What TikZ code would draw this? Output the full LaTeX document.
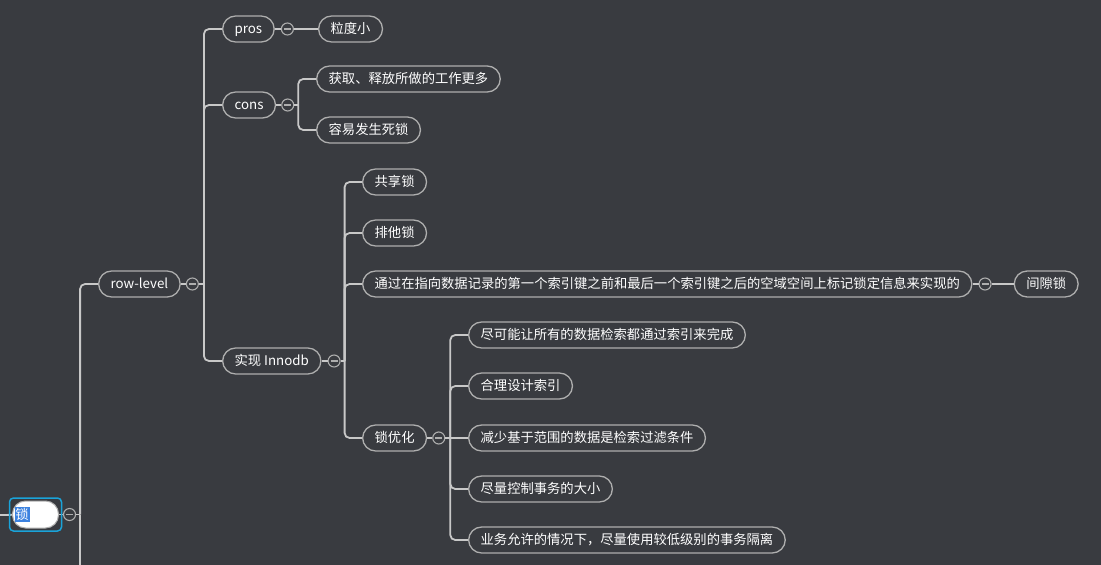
\documentclass[tikz,border=0pt]{standalone}
\usepackage{fontspec}
\setmainfont{Noto Sans CJK SC}
\usetikzlibrary{positioning}
\definecolor{bgdark}{HTML}{393B40}
\definecolor{linegray}{HTML}{C8C8C8}
\definecolor{boxgray}{HTML}{AEAEAE}
\definecolor{selcyan}{HTML}{1AA3D9}
\definecolor{selblue}{HTML}{3C82E0}

\begin{document}
\begin{tikzpicture}[
    x=1pt, y=-1pt,
    every node/.style={font=\fontsize{13.3}{15}\selectfont, text=white},
    topic/.style={rectangle, draw=boxgray, fill=bgdark, line width=1.3pt, rounded corners=13pt, minimum height=26pt, text height=10.5pt, text depth=2.5pt, inner xsep=12pt, anchor=west},
    rootbox/.style={rectangle, draw=boxgray, fill=white, line width=1pt, rounded corners=13pt, minimum height=27pt, text width=42pt, inner xsep=2pt, align=left, anchor=west},
    fold/.style={circle, draw=boxgray, fill=bgdark, line width=1.1pt, minimum size=12pt, inner sep=0pt,
        path picture={\draw[boxgray, line width=1.1pt] ([xshift=-3.5pt]path picture bounding box.center) -- ([xshift=3.5pt]path picture bounding box.center);}},
    link/.style={draw=linegray, line width=1.8pt},
    elbow/.style={link, rounded corners=5pt}
]

% Background
\fill[bgdark] (0,0) rectangle (1101,565);
\useasboundingbox (0,0) rectangle (1101,565);

% Root
\node[rootbox] (root) at (12,514.5) {{\fboxsep=1pt\colorbox{selblue}{锁}}};
\node[fold, right=4pt of root] (rootF) {};
\coordinate[right=4pt of rootF] (rootJ);
\coordinate (leftend) at (0,515);
\coordinate[below=60pt of rootJ] (offbelow);

% Level 1
\node[topic] (rowlevel) at (98,284) {row-level};
\node[fold, right=5pt of rowlevel] (rowlevelF) {};
\coordinate[right=5pt of rowlevelF] (rowlevelJ);

% Level 2
\node[topic] (pros) at (222,29) {pros};
\node[fold, right=6pt of pros] (prosF) {};
\node[topic, right=24pt of prosF] (lidu) {粒度小};

\node[topic] (cons) at (222,105) {cons};
\node[fold, right=5pt of cons] (consF) {};
\coordinate[right=4pt of consF] (consJ);
\node[topic] (costly) at (316,79) {获取、释放所做的工作更多};
\node[topic] (deadlock) at (316,130) {容易发生死锁};

\node[topic] (impl) at (222,361) {实现 Innodb};
\node[fold, right=6pt of impl] (implF) {};
\coordinate[right=4pt of implF] (implJ);

% Level 3 (Innodb)
\node[topic] (shared) at (362,182) {共享锁};
\node[topic] (exclusive) at (362,233) {排他锁};
\node[topic] (gapdesc) at (362,284) {通过在指向数据记录的第一个索引键之前和最后一个索引键之后的空域空间上标记锁定信息来实现的};
\node[fold, right=6pt of gapdesc] (gapdescF) {};
\node[topic, right=22pt of gapdescF] (gaplock) {间隙锁};
\node[topic] (lockopt) at (362,438) {锁优化};
\node[fold, right=5pt of lockopt] (lockoptF) {};
\coordinate[right=5pt of lockoptF] (lockoptJ);

% Level 4 (lock tuning)
\node[topic] (opt1) at (468,335) {尽可能让所有的数据检索都通过索引来完成};
\node[topic] (opt2) at (468,386) {合理设计索引};
\node[topic] (opt3) at (468,438) {减少基于范围的数据是检索过滤条件};
\node[topic] (opt4) at (468,489) {尽量控制事务的大小};
\node[topic] (opt5) at (468,540) {业务允许的情况下，尽量使用较低级别的事务隔离};

% Connectors
\draw[link] (leftend) -- (root);
\draw[link] (root) -- (rootF) -- (rootJ);
\draw[link] (rootJ) -- (offbelow);
\draw[elbow] (rootJ) |- (rowlevel);

\draw[link] (rowlevel) -- (rowlevelF) -- (rowlevelJ);
\draw[elbow] (rowlevelJ) |- (pros);
\draw[elbow] (rowlevelJ) |- (cons);
\draw[elbow] (rowlevelJ) |- (impl);

\draw[link] (pros) -- (prosF) -- (lidu);

\draw[link] (cons) -- (consF) -- (consJ);
\draw[elbow] (consJ) |- (costly);
\draw[elbow] (consJ) |- (deadlock);

\draw[link] (impl) -- (implF) -- (implJ);
\draw[elbow] (implJ) |- (shared);
\draw[elbow] (implJ) |- (exclusive);
\draw[elbow] (implJ) |- (gapdesc);
\draw[elbow] (implJ) |- (lockopt);

\draw[link] (gapdesc) -- (gapdescF) -- (gaplock);

\draw[link] (lockopt) -- (lockoptF) -- (lockoptJ);
\draw[elbow] (lockoptJ) |- (opt1);
\draw[elbow] (lockoptJ) |- (opt2);
\draw[elbow] (lockoptJ) -- (opt3);
\draw[elbow] (lockoptJ) |- (opt4);
\draw[elbow] (lockoptJ) |- (opt5);

% Selection frame round the root
\draw[selcyan, line width=1.5pt, rounded corners=4pt] ([shift={(-2.5,2.5)}]root.south west) rectangle ([shift={(2.5,-2.5)}]root.north east);

\end{tikzpicture}
\end{document}
